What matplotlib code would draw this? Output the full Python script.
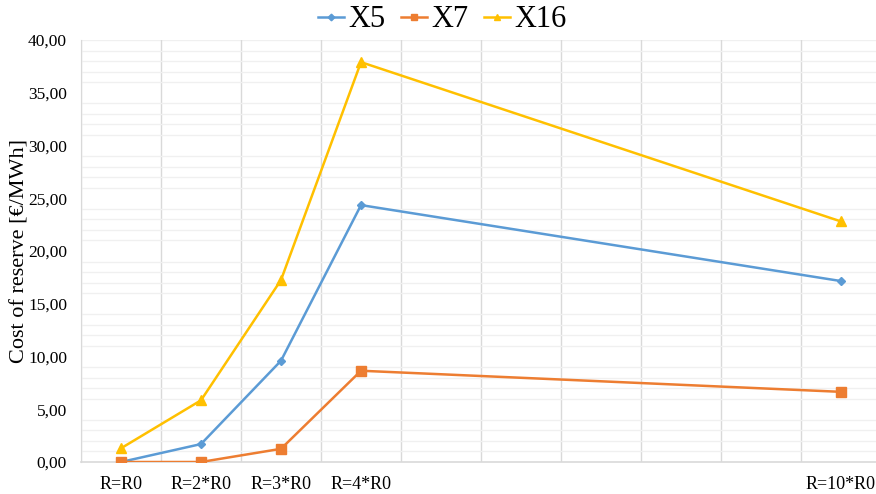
import matplotlib
matplotlib.use("Agg")
import matplotlib.pyplot as plt
import numpy as np
from matplotlib.ticker import MultipleLocator, FixedLocator

plt.rcParams['font.family'] = ['Liberation Serif', 'DejaVu Serif']

# Reserve multiplier positions (R = k * R0)
x_pos = [1, 2, 3, 4, 10]
x_labels = ["R=R0", "R=2*R0", "R=3*R0", "R=4*R0", "R=10*R0"]

x5 = [0.00, 1.70, 9.60, 24.35, 17.15]
x7 = [0.00, 0.00, 1.25, 8.65, 6.65]
x16 = [1.30, 5.85, 17.25, 37.90, 22.80]

series_names = ["X5", "X7", "X16"]
colors = ["#5B9BD5", "#ED7D31", "#FFC000"]
markers = ["D", "s", "^"]
msizes = [4.5, 6.5, 6.5]

fig = plt.figure(figsize=(8.76, 4.94), dpi=100)
ax = fig.add_axes([81 / 876, 32 / 494, 800 / 876, 422 / 494])

for vals, name, c, m, ms in zip([x5, x7, x16], series_names, colors, markers, msizes):
    ax.plot(x_pos, vals, color=c, marker=m, markersize=ms, linewidth=1.8,
            label=name, zorder=3)

ax.set_xlim(0.5, 10.5)
ax.set_ylim(0, 40)

yt = np.arange(0, 45, 5)
ax.set_yticks(yt)
ax.set_yticklabels([f"{v:.2f}".replace(".", ",") for v in yt])
ax.yaxis.set_minor_locator(MultipleLocator(1))

ax.set_xticks(x_pos)
ax.set_xticklabels(x_labels)
ax.xaxis.set_minor_locator(FixedLocator(np.arange(0.5, 11, 1)))

ax.grid(False)
ax.grid(which="minor", axis="y", color="#F0F0F0", linewidth=1.0, zorder=0)
ax.grid(which="minor", axis="x", color="#D9D9D9", linewidth=1.0, zorder=0)
ax.axhline(40, color="#F0F0F0", linewidth=1.0, zorder=0)

ax.tick_params(axis="both", which="both", length=0, colors="black")
ax.tick_params(axis="x", labelsize=13, pad=10)
ax.tick_params(axis="y", labelsize=12.5, pad=10)

for side in ["top", "right"]:
    ax.spines[side].set_visible(False)
ax.spines["left"].set_color("#D9D9D9")
ax.spines["bottom"].set_color("#D9D9D9")
ax.spines["bottom"].set_linewidth(1.2)

ax.set_ylabel("Cost of reserve [€/MWh]", fontsize=16, va="center")
ax.yaxis.set_label_coords((20 - 81) / 800, 0.5)

fig.legend(loc="upper center", bbox_to_anchor=(442 / 876, 1.045), ncol=3, frameon=False,
           fontsize=22, handlelength=0.85, handletextpad=0.15, columnspacing=0.5,
           markerscale=0.75)

fig.savefig("out.png", dpi=100)
